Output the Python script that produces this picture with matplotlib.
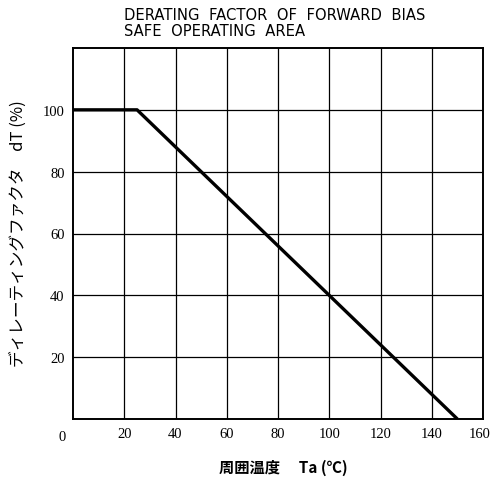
import matplotlib
matplotlib.use("Agg")
import matplotlib.pyplot as plt
from matplotlib.transforms import ScaledTranslation

temp = [0, 25, 150]
derating = [100, 100, 0]
x_ticks = [20, 40, 60, 80, 100, 120, 140, 160]
y_ticks = [20, 40, 60, 80, 100]

plt.rcParams['font.family'] = ['Noto Sans CJK JP', 'DejaVu Sans']

fig = plt.figure(figsize=(4.91, 4.89), dpi=100)
ax = fig.add_axes([73/491, 1-420/489, 410/491, 371/489])
ax.set_xlim(0, 160)
ax.set_ylim(0, 120)
for xv in x_ticks[:-1]:
    ax.axvline(xv, color='black', lw=0.9)
for yv in y_ticks:
    ax.axhline(yv, color='black', lw=0.9)
ax.plot(temp, derating, color='black', lw=2.4, solid_capstyle='butt')
for s in ax.spines.values():
    s.set_linewidth(1.4)
ax.set_xticks(x_ticks)
ax.set_yticks(y_ticks)
ax.set_xticklabels([str(v) for v in x_ticks], family='Liberation Serif', fontsize=10.5)
ax.set_yticklabels([str(v) for v in y_ticks], family='Liberation Serif', fontsize=10.5)
ax.tick_params(length=0, pad=6)
last = ax.get_xticklabels()[-1]
last.set_ha('right')
last.set_transform(last.get_transform() + ScaledTranslation(8/100, 0, fig.dpi_scale_trans))
ax.text(-0.027, -0.03, '0', transform=ax.transAxes, ha='center', va='top',
        family='Liberation Serif', fontsize=10.5)

fig.text(124/491, 1-16/489, 'DERATING  FACTOR  OF  FORWARD  BIAS', ha='left', va='center',
         family='DejaVu Sans', fontsize=10.6)
fig.text(124/491, 1-31/489, 'SAFE  OPERATING  AREA', ha='left', va='center',
         family='DejaVu Sans', fontsize=10.6)

fig.text(18/491, 1-234/489, 'ディレーティングファクタ　dT (%)', rotation=90,
         ha='center', va='center', fontsize=12)
fig.text(283/491, 1-468/489, '周囲温度　 Ta (℃)', ha='center', va='center',
         fontsize=11, fontweight='bold')

fig.savefig('out.png', dpi=100)
